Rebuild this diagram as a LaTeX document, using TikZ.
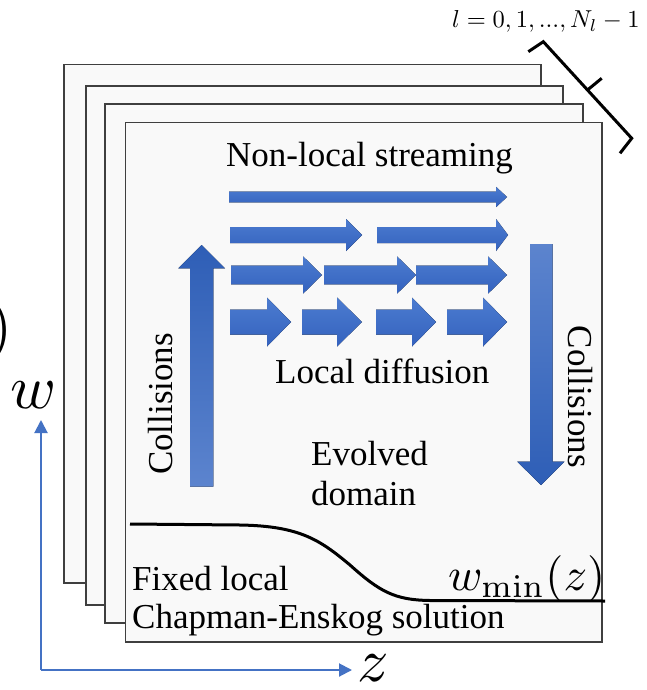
\documentclass[tikz,border=0pt]{standalone}
\usepackage{graphicx}
\usepackage[no-math]{fontspec}
\setmainfont{Liberation Serif}
\usetikzlibrary{arrows.meta}
\definecolor{axisblue}{RGB}{68,114,196}
\definecolor{arrowtop}{RGB}{76,124,208}
\definecolor{arrowbot}{RGB}{52,98,190}
\definecolor{darkarrow}{RGB}{46,94,182}
\definecolor{lightarrow}{RGB}{92,132,206}
\definecolor{layerline}{RGB}{63,63,63}
\definecolor{layerfill}{RGB}{249,249,249}
\tikzset{
  layer/.style={draw=layerline, fill=layerfill, line width=1.6pt},
  harrowfill/.style={top color=arrowtop, bottom color=arrowbot, draw=none},
  lbl/.style={inner sep=0pt, font=\fontsize{35}{40}\selectfont},
  mathlbl/.style={inner sep=0pt},
  axisline/.style={draw=axisblue, line width=2pt, -{Triangle[width=13pt,length=13pt]}},
  bracestyle/.style={draw=black, line width=3pt, line join=miter},
  boundary/.style={draw=black, line width=3pt}
}
% horizontal arrow: x1, x2, yc, shaft half-height, head half-height, head start
\newcommand\harr[6]{%
  \fill[harrowfill] (#1,#3-#4) -- (#6,#3-#4) -- (#6,#3-#5) -- (#2,#3)
    -- (#6,#3+#5) -- (#6,#3+#4) -- (#1,#3+#4) -- cycle;}
\begin{document}
\begin{tikzpicture}[x=1pt,y=-1pt]
\useasboundingbox (0,0) rectangle (647,690);
\fill[white] (0,0) rectangle (647,690);

% stacked layers
\draw[layer] (64,64.5) rectangle (540.7,583);
\draw[layer] (85.7,86) rectangle (562.7,605);
\draw[layer] (105,104.3) rectangle (582.7,623);
\draw[layer] (125.3,122.7) rectangle (602,641.7);

% brace
\draw[bracestyle] (528.3,51.7) -- (543.3,41.7) -- (631.7,138.3) -- (620,153.3);
\draw[bracestyle] (587.5,90) -- (601.7,78.3);
\node[mathlbl, anchor=base west] (llabel) at (452,28) {\scalebox{2.45}{$l=0,1,...,N_l-1$}};

% horizontal arrows
\harr{229}{507}{197}{5.3}{10.2}{496}
\harr{230}{362}{235}{8}{16}{346}
\harr{377}{508}{235}{8}{16}{496}
\harr{231}{322}{275}{9.3}{18.7}{303}
\harr{324}{416}{275}{9.3}{18.7}{397}
\harr{416}{507}{275}{9.3}{18.7}{488}
\harr{230}{291}{322}{12.5}{24.5}{267}
\harr{302}{362}{322}{12.5}{24.5}{337}
\harr{376}{436}{322}{12.5}{24.5}{412}
\harr{447}{507}{322}{12.5}{24.5}{483}

% vertical arrows
\fill[top color=darkarrow, bottom color=lightarrow] (190,486.7) -- (190,268.3) -- (178.3,268.3) -- (201.7,245)
  -- (225,268.3) -- (213.3,268.3) -- (213.3,486.7) -- cycle;
\fill[top color=lightarrow, bottom color=darkarrow] (530,244) -- (530,461.7) -- (517.3,461.7) -- (541,485)
  -- (564.3,461.7) -- (552.7,461.7) -- (552.7,244) -- cycle;

% labels
\node[lbl, anchor=base west] (nonlocal) at (226,166.7) {Non-local streaming};
\node[lbl, anchor=base west] (localdiff) at (275,383.3) {Local diffusion};
\node[lbl, anchor=base west] (evolved) at (311,465) {Evolved};
\node[lbl, anchor=base west] (domain) at (311,505) {domain};
\node[lbl, anchor=base west] (fixed) at (132,590.7) {Fixed local};
\node[lbl, anchor=base west] (chapman) at (132,628.3) {Chapman-Enskog solution};
\node[lbl, anchor=base, rotate=90] (collleft) at (172.7,404) {Collisions};
\node[lbl, anchor=base, rotate=-90] (collright) at (568.3,396.7) {Collisions};

% boundary curve
\draw[boundary] (130,524) -- (240,525) .. controls (300,526) and (320,540) .. (350,565)
  .. controls (380,592) and (395,600) .. (430,600.5) -- (605,601);
\node[mathlbl, anchor=base west] (wmin) at (448,590.5) {\scalebox{4.65}{$w_{\min}(z)$}};

% axes
\coordinate (origin) at (41,670);
\coordinate (wtip) at (41,420);
\coordinate (ztip) at (352,670);
\draw[axisline] (origin) -- (wtip);
\draw[axisline] (origin) -- (ztip);
\node[mathlbl, anchor=base west] (wlab) at (10,408) {\scalebox{6.2}{$w$}};
\node[mathlbl, anchor=base west] (zlab) at (357,681.7) {\scalebox{6.2}{$z$}};
\node[mathlbl, anchor=base east] (paren) at (13,346.5) {\scalebox{6.2}{$)$}};
\end{tikzpicture}
\end{document}
